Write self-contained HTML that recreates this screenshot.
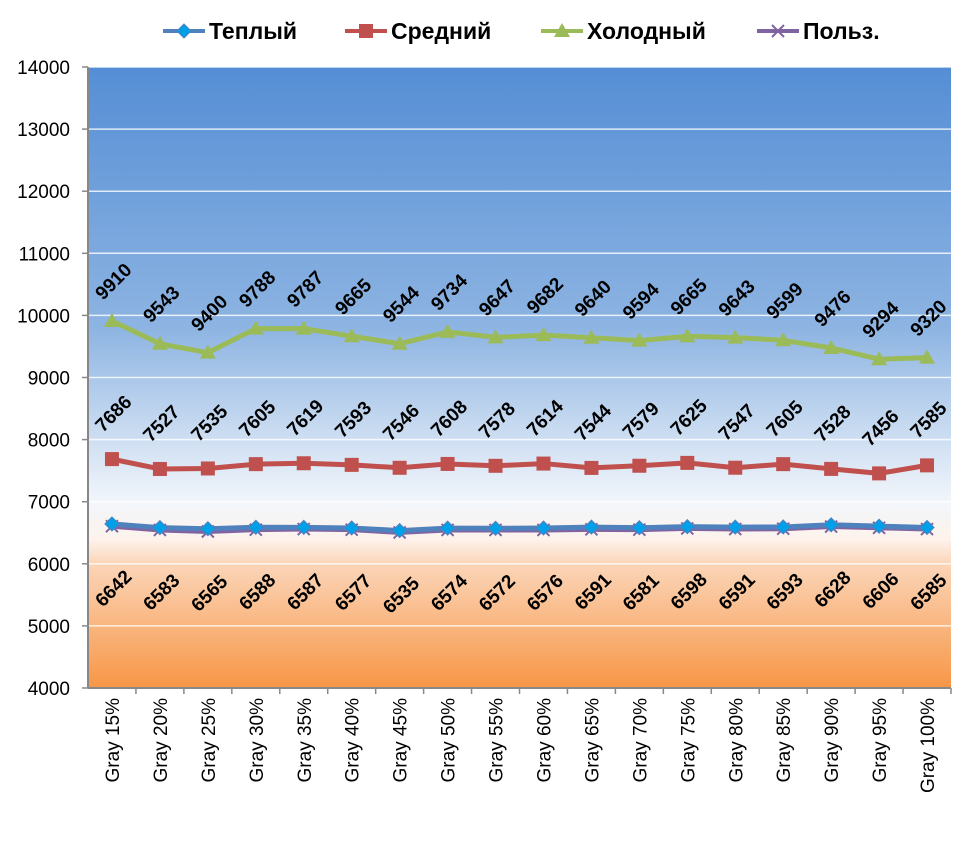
<!DOCTYPE html>
<html><head><meta charset="utf-8"><style>
body{margin:0;background:#fff;}
svg text{font-family:"Liberation Sans",sans-serif;}
</style></head><body>
<svg id="chart" width="979" height="837" viewBox="0 0 979 837" xmlns="http://www.w3.org/2000/svg">
<defs>
<linearGradient id="bg" x1="0" y1="0" x2="0" y2="1">
<stop offset="0" stop-color="#558ed5"/>
<stop offset="0.42" stop-color="#8db4e2"/>
<stop offset="0.7" stop-color="#f2f6fb"/>
<stop offset="0.76" stop-color="#fdf3ec"/>
<stop offset="0.8" stop-color="#fbd5b8"/>
<stop offset="1" stop-color="#f79646"/>
</linearGradient>
</defs>
<rect x="88" y="67" width="863" height="621" fill="url(#bg)"/>
<g id="grid"></g><g id="axes"></g><g id="series"></g><g id="labels"></g><g id="legend"></g>
</svg>
<script>
const categories=["Gray 15%","Gray 20%","Gray 25%","Gray 30%","Gray 35%","Gray 40%","Gray 45%","Gray 50%","Gray 55%","Gray 60%","Gray 65%","Gray 70%","Gray 75%","Gray 80%","Gray 85%","Gray 90%","Gray 95%","Gray 100%"];
const warm=[6642,6583,6565,6588,6587,6577,6535,6574,6572,6576,6591,6581,6598,6591,6593,6628,6606,6585];
const medium=[7686,7527,7535,7605,7619,7593,7546,7608,7578,7614,7544,7579,7625,7547,7605,7528,7456,7585];
const cold=[9910,9543,9400,9788,9787,9665,9544,9734,9647,9682,9640,9594,9665,9643,9599,9476,9294,9320];
const user=[6605,6545,6520,6550,6560,6550,6505,6545,6545,6545,6555,6550,6570,6560,6565,6600,6580,6560];
const yTicks=[4000,5000,6000,7000,8000,9000,10000,11000,12000,13000,14000];
const NS="http://www.w3.org/2000/svg";
const X0=88,X1=951,Y0=688,Y1=67,ymin=4000,ymax=14000;
const step=(X1-X0)/categories.length;
const xs=i=>X0+step*(i+0.5);
const ys=v=>Y0-(v-ymin)/(ymax-ymin)*(Y0-Y1);
function mk(tag,attrs,parent){const e=document.createElementNS(NS,tag);for(const k in attrs)e.setAttribute(k,attrs[k]);document.getElementById(parent).appendChild(e);return e;}
yTicks.forEach(t=>{
 if(t>ymin){const l=mk('line',{x1:X0,x2:X1,y1:ys(t),y2:ys(t),stroke:'#ffffff','stroke-width':1.5,'stroke-opacity':0.8},'grid');
 
 }
 const tk=mk('line',{x1:X0-6,x2:X0,y1:ys(t),y2:ys(t),stroke:'#888','stroke-width':1.5},'axes');
 
 
 const tx=mk('text',{x:X0-18,y:ys(t)+7,'text-anchor':'end','font-size':19,fill:'#000'},'axes');tx.textContent=t;
 
 
});
const ya=mk('line',{x1:X0,x2:X0,y1:Y1,y2:Y0,stroke:'#888','stroke-width':2},'axes');


const xa=mk('line',{x1:X0,x2:X1,y1:Y0,y2:Y0,stroke:'#888','stroke-width':2},'axes');


categories.forEach((c,i)=>{
 const tk=mk('line',{x1:X0+step*(i+1),x2:X0+step*(i+1),y1:Y0,y2:Y0+6,stroke:'#888','stroke-width':1.5},'axes');
 
 
 const x=xs(i)+7,y=Y0+10;
 const tx=mk('text',{x:x,y:y,'text-anchor':'end','font-size':19,transform:`rotate(-90 ${x} ${y})`},'axes');tx.textContent=c;
 
 
});
function marker(type,x,y,color,g){
 let e;
 if(type==='diamond')e=mk('polygon',{points:`${x},${y-7} ${x+7},${y} ${x},${y+7} ${x-7},${y}`,fill:'#00a0e8',stroke:'#4f81bd','stroke-width':1},g);
 else if(type==='square')e=mk('rect',{x:x-7,y:y-7,width:14,height:14,fill:'#c0504d'},g);
 else if(type==='tri')e=mk('polygon',{points:`${x},${y-8} ${x+8},${y+6} ${x-8},${y+6}`,fill:'#9bbb59'},g);
 else e=mk('path',{d:`M${x-6} ${y-6}L${x+6} ${y+6}M${x+6} ${y-6}L${x-6} ${y+6}`,stroke:'#8064a2','stroke-width':2},g);
 return e;
}
const series=[
 {name:'user',data:user,color:'#8064a2',m:'x'},
 {name:'warm',data:warm,color:'#4f81bd',m:'diamond'},
 {name:'medium',data:medium,color:'#c0504d',m:'square'},
 {name:'cold',data:cold,color:'#9bbb59',m:'tri'}];
series.forEach(s=>{
 const pl=mk('polyline',{points:s.data.map((v,i)=>xs(i)+','+ys(v)).join(' '),fill:'none',stroke:s.color,'stroke-width':5,'stroke-linejoin':'round'},'series');
 
 
 s.data.forEach((v,i)=>{const m=marker(s.m,xs(i),ys(v),s.color,'series');
  
  });
});
function labels(data,off,name){data.forEach((v,i)=>{const x=xs(i)+1,y=ys(v)+off;
 const t=mk('text',{x:x,y:y+7,'text-anchor':'middle','font-size':19,'font-weight':'bold',transform:`rotate(-45 ${x} ${y})`},'labels');t.textContent=v;
 
 });}
labels(cold,-40,'cold');labels(medium,-46,'medium');labels(warm,64,'warm');
const leg=[['Теплый','#4f81bd','diamond',163],['Средний','#c0504d','square',345],['Холодный','#9bbb59','tri',541],['Польз.','#8064a2','x',757]];
leg.forEach(l=>{
 const ln=mk('line',{x1:l[3],x2:l[3]+42,y1:31,y2:31,stroke:l[1],'stroke-width':4},'legend');
 
 
 const m=marker(l[2],l[3]+21,31,l[1],'legend');
 
 
 const t=mk('text',{x:l[3]+46,y:39,'font-size':23,'font-weight':'bold'},'legend');t.textContent=l[0];
 
 
});
</script>
</body></html>
